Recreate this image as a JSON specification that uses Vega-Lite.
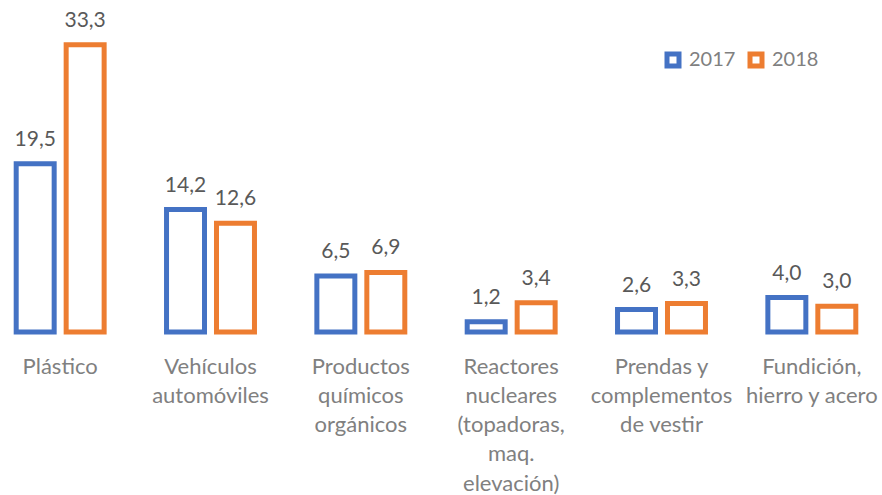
{
  "$schema": "https://vega.github.io/schema/vega-lite/v6.json",
  "width": 882,
  "height": 332,
  "autosize": "none",
  "padding": {"top": 0, "left": 0, "right": 0, "bottom": 163},
  "background": "white",
  "config": {
    "font": "Lato",
    "view": {"stroke": null},
    "locale": {"number": {"decimal": ",", "thousands": ".", "grouping": [3], "currency": ["", " €"]}}
  },
  "data": {
    "values": [
      {"cat": "Plástico", "year": "2017", "value": 19.5},
      {"cat": "Plástico", "year": "2018", "value": 33.3},
      {"cat": "Vehículos|automóviles", "year": "2017", "value": 14.2},
      {"cat": "Vehículos|automóviles", "year": "2018", "value": 12.6},
      {"cat": "Productos|químicos|orgánicos", "year": "2017", "value": 6.5},
      {"cat": "Productos|químicos|orgánicos", "year": "2018", "value": 6.9},
      {"cat": "Reactores|nucleares|(topadoras,|maq.|elevación)", "year": "2017", "value": 1.2},
      {"cat": "Reactores|nucleares|(topadoras,|maq.|elevación)", "year": "2018", "value": 3.4},
      {"cat": "Prendas y|complementos|de vestir", "year": "2017", "value": 2.6},
      {"cat": "Prendas y|complementos|de vestir", "year": "2018", "value": 3.3},
      {"cat": "Fundición,|hierro y acero", "year": "2017", "value": 4.0},
      {"cat": "Fundición,|hierro y acero", "year": "2018", "value": 3.0}
    ]
  },
  "encoding": {
    "x": {
      "field": "cat", "type": "nominal", "sort": null, "title": null,
      "scale": {"range": [-15, 887], "paddingInner": 0.415, "paddingOuter": 0.2075},
      "axis": {
        "domain": false, "ticks": false, "grid": false, "labelAngle": 0,
        "labelExpr": "split(datum.label, '|')",
        "labelFontSize": 22, "labelColor": "#808080", "labelPadding": 24,
        "labelLineHeight": 29.3, "labelBaseline": "top"
      }
    },
    "xOffset": {"field": "year", "type": "nominal", "scale": {"paddingInner": 0.24, "paddingOuter": 0}},
    "y": {
      "field": "value", "type": "quantitative",
      "scale": {"domain": [0, 38.5], "nice": false, "zero": true},
      "axis": null
    }
  },
  "layer": [
    {
      "mark": {"type": "bar", "fill": "white", "strokeWidth": 5, "strokeJoin": "miter"},
      "encoding": {
        "stroke": {
          "field": "year", "type": "nominal",
          "scale": {"domain": ["2017", "2018"], "range": ["#4472C4", "#ED7D31"]},
          "legend": {
            "title": null, "orient": "none", "legendX": 663, "legendY": 50,
            "direction": "horizontal", "symbolType": "square", "symbolSize": 144,
            "symbolStrokeWidth": 5, "symbolFillColor": "white",
            "labelFontSize": 20, "labelColor": "#808080", "labelOffset": 6,
            "columnPadding": 4
          }
        }
      }
    },
    {
      "mark": {"type": "text", "baseline": "alphabetic", "dy": -18, "fontSize": 21, "color": "#595959"},
      "encoding": {
        "text": {"field": "value", "type": "quantitative", "format": ".1f"}
      }
    }
  ]
}
